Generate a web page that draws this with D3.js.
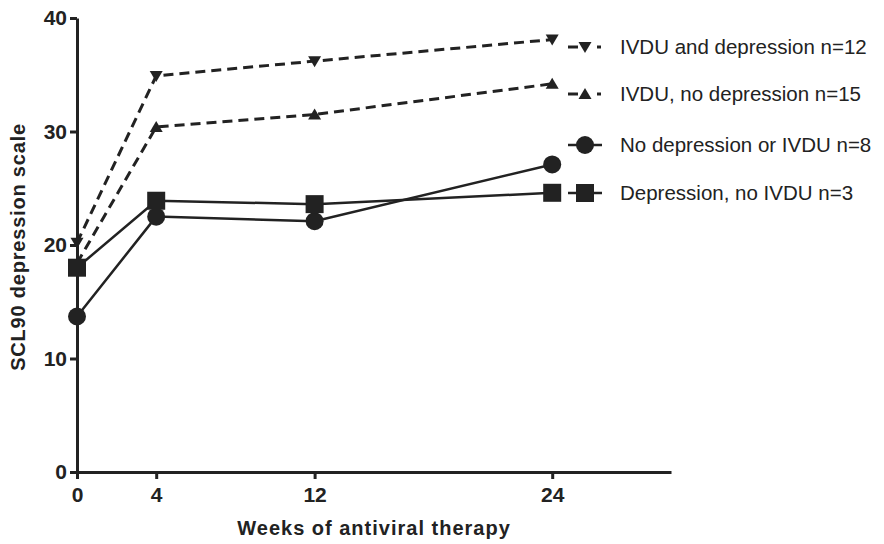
<!DOCTYPE html>
<html>
<head>
<meta charset="UTF-8">
<style>
  body { margin:0; background:#fff; }
  svg { font-family: "Liberation Sans", Arial, sans-serif; }
</style>
</head>
<body>
<div id="chart"></div>
<script src="https://d3js.org/d3.v7.min.js"></script>
<script>
var weeks = [0, 4, 12, 24];
var xTicks = [0, 4, 12, 24];
var yTicks = [0, 10, 20, 30, 40];

var ivduDep = [20.2, 34.9, 36.2, 38.1];
var ivduNoDep = [18.4, 30.4, 31.5, 34.2];
var noDepNoIvdu = [13.7, 22.5, 22.1, 27.1];
var depNoIvdu = [18.0, 23.9, 23.6, 24.6];

var seriesNames = [
  "IVDU and depression n=12",
  "IVDU, no depression n=15",
  "No depression or IVDU n=8",
  "Depression, no IVDU n=3"
];

var series = [
  { name: seriesNames[0], values: ivduDep, symbol: "down", dashed: true },
  { name: seriesNames[1], values: ivduNoDep, symbol: "up", dashed: true },
  { name: seriesNames[2], values: noDepNoIvdu, symbol: "circle", dashed: false },
  { name: seriesNames[3], values: depNoIvdu, symbol: "square", dashed: false }
];

var W = 884, H = 544;
var ink = "#222";

var svg = d3.select("#chart").append("svg")
  .attr("width", W).attr("height", H);

var x = d3.scaleLinear().domain([0, 30]).range([77, 671]);
var y = d3.scaleLinear().domain([0, 40]).range([472, 18]);

// axes
var xAxis = svg.append("g")
  .attr("transform", "translate(0," + y(0) + ")")
  .call(d3.axisBottom(x).tickValues(xTicks).tickSize(7).tickPadding(8).tickSizeOuter(0));
var yAxis = svg.append("g")
  .attr("transform", "translate(" + x(0) + ",0)")
  .call(d3.axisLeft(y).tickValues(yTicks).tickSize(7).tickPadding(3).tickSizeOuter(0));

[xAxis, yAxis].forEach(function(a) {
  a.select(".domain").attr("stroke", ink).attr("stroke-width", 3);
  a.selectAll(".tick line").attr("stroke", ink).attr("stroke-width", 3);
  a.selectAll(".tick text")
    .attr("fill", ink)
    .style("font-size", "21px")
    .style("font-weight", "bold")
    .style("font-family", "'Liberation Sans', Arial, sans-serif");
});

svg.append("text")
  .attr("x", 374).attr("y", 535)
  .attr("text-anchor", "middle")
  .attr("fill", ink)
  .style("font-size", "20px").style("font-weight", "bold")
  .style("letter-spacing", "1px")
  .text("Weeks of antiviral therapy");

svg.append("text")
  .attr("transform", "translate(25,247) rotate(-90)")
  .attr("text-anchor", "middle")
  .attr("fill", ink)
  .style("font-size", "20px").style("font-weight", "bold")
  .style("letter-spacing", "0.8px")
  .text("SCL90 depression scale");

function drawSymbol(g, type, cx, cy) {
  if (type === "circle") {
    g.append("circle").attr("cx", cx).attr("cy", cy).attr("r", 9).attr("fill", ink);
  } else if (type === "square") {
    g.append("rect").attr("x", cx - 9).attr("y", cy - 9).attr("width", 18).attr("height", 18).attr("fill", ink);
  } else if (type === "down") {
    g.append("path").attr("d", "M" + (cx - 6.5) + "," + (cy - 5) + "L" + (cx + 6.5) + "," + (cy - 5) + "L" + cx + "," + (cy + 6) + "Z").attr("fill", ink);
  } else {
    g.append("path").attr("d", "M" + (cx - 6.5) + "," + (cy + 5) + "L" + (cx + 6.5) + "," + (cy + 5) + "L" + cx + "," + (cy - 6) + "Z").attr("fill", ink);
  }
}

var line = d3.line()
  .x(function(d, i) { return x(weeks[i]); })
  .y(function(d) { return y(d); });

series.forEach(function(s) {
  var g = svg.append("g");
  g.append("path")
    .datum(s.values)
    .attr("fill", "none")
    .attr("stroke", ink)
    .attr("stroke-width", s.dashed ? 3 : 2.5)
    .attr("stroke-dasharray", s.dashed ? "10,6" : null)
    .attr("d", line);
  s.values.forEach(function(v, i) {
    drawSymbol(g, s.symbol, x(weeks[i]), y(v));
  });
});

// legend
var legY = [47, 94, 145, 193];
series.forEach(function(s, i) {
  var g = svg.append("g");
  var ly = legY[i];
  if (s.dashed) {
    g.append("line").attr("x1", 568).attr("x2", 578).attr("y1", ly).attr("y2", ly)
      .attr("stroke", ink).attr("stroke-width", 3);
    g.append("line").attr("x1", 597).attr("x2", 601).attr("y1", ly).attr("y2", ly)
      .attr("stroke", ink).attr("stroke-width", 3);
  } else {
    g.append("line").attr("x1", 568).attr("x2", 602).attr("y1", ly).attr("y2", ly)
      .attr("stroke", ink).attr("stroke-width", 2.5);
  }
  drawSymbol(g, s.symbol, 585, ly);
  g.append("text")
    .attr("x", 620).attr("y", ly + 7)
    .attr("fill", ink)
    .style("font-size", "20.5px")
    .text(s.name);
});
</script>
</body>
</html>
